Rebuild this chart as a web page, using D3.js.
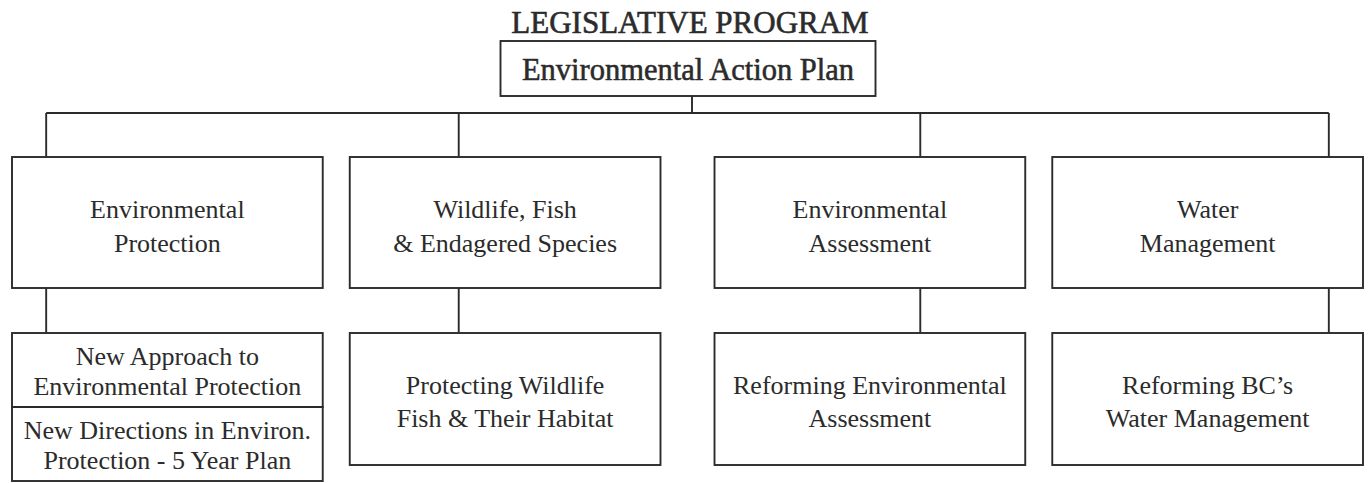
<!DOCTYPE html>
<html>
<head>
<meta charset="utf-8">
<script src="https://cdn.jsdelivr.net/npm/d3@7"></script>
<style>
  html, body { margin: 0; padding: 0; background: #fff; }
  svg { display: block; }
</style>
</head>
<body>
<div id="chart"></div>
<script>
// ---- data ----
const chartTitle = "LEGISLATIVE PROGRAM";
const rootLabel = "Environmental Action Plan";
const programs = [
  "Environmental\nProtection",
  "Wildlife, Fish\n& Endagered Species",
  "Environmental\nAssessment",
  "Water\nManagement"
];
const initiatives = [
  ["New Approach to\nEnvironmental Protection", "New Directions in Environ.\nProtection - 5 Year Plan"],
  ["Protecting Wildlife\nFish & Their Habitat"],
  ["Reforming Environmental\nAssessment"],
  ["Reforming BC\u2019s\nWater Management"]
];

// ---- layout ----
const W = 1368, H = 483;
const ink = "#2b2b2b";
const font = "'Liberation Serif', 'Times New Roman', serif";

const svg = d3.select("#chart").append("svg")
  .attr("width", W).attr("height", H)
  .attr("viewBox", [0, 0, W, H]);

// columns are laid out as two pairs, with a wider gap between the pairs
const xGroup = d3.scaleBand().domain([0, 1]).range([12, 1363]).paddingInner(0.0769).paddingOuter(0);
const xInner = d3.scaleBand().domain([0, 1]).range([0, xGroup.bandwidth()]).paddingInner(0.08).paddingOuter(0);
const boxX = i => xGroup(Math.floor(i / 2)) + xInner(i % 2);
const boxW = xInner.bandwidth();
// position of each column's connector inside its box (fraction of box width)
const linkFrac = d3.scaleLinear().domain([0, programs.length - 1]).range([0.11, 0.89]);
const linkX = i => boxX(i) + boxW * linkFrac(i) + (i === 1 ? -6 : i === 2 ? 10 : 0);

const y = d3.scaleOrdinal()
  .domain(["title", "rootTop", "rootBottom", "bus", "l1Top", "l1Bottom", "l2Top", "l2Bottom", "l2Stack"])
  .range([33, 41, 96, 113, 157, 288, 333, 465, 481]);

const rootCx = 688, rootW = 375;

function lines(g, label, cx, cy, fs, lh, off) {
  const parts = label.split("\n");
  const t = g.append("text")
    .attr("text-anchor", "middle")
    .attr("font-family", font)
    .attr("font-size", fs)
    .attr("fill", ink);
  parts.forEach((p, i) => {
    t.append("tspan")
      .attr("x", cx)
      .attr("y", cy + (i - (parts.length - 1) / 2) * lh + off + fs * 0.34)
      .text(p);
  });
  return t;
}

const boxStyle = sel => sel.attr("fill", "none").attr("stroke", ink).attr("stroke-width", 1.9);
const lineStyle = sel => sel.attr("fill", "none").attr("stroke", ink).attr("stroke-width", 1.9);

// title
svg.append("text")
  .attr("x", rootCx + 2).attr("y", y("title"))
  .attr("text-anchor", "middle")
  .attr("font-family", font).attr("font-size", 31)
  .attr("fill", ink).attr("stroke", ink).attr("stroke-width", 0.6)
  .text(chartTitle);

// root box
svg.append("rect")
  .attr("x", rootCx - rootW / 2).attr("y", y("rootTop"))
  .attr("width", rootW).attr("height", y("rootBottom") - y("rootTop"))
  .call(boxStyle);
lines(svg, rootLabel, rootCx, (y("rootTop") + y("rootBottom")) / 2, 30.5, 0, 1)
  .attr("stroke", ink).attr("stroke-width", 0.55);

// connectors
const busX = rootCx + 4;
svg.append("line")
  .attr("x1", busX).attr("x2", busX)
  .attr("y1", y("rootBottom")).attr("y2", y("bus")).call(lineStyle);
svg.append("line")
  .attr("x1", linkX(0)).attr("x2", linkX(programs.length - 1))
  .attr("y1", y("bus")).attr("y2", y("bus")).call(lineStyle);

const cols = svg.selectAll("g.col").data(programs).join("g").attr("class", "col");

cols.each(function(label, i) {
  const g = d3.select(this);
  const bx = boxX(i), bw = boxW;
  const lx = linkX(i);
  // drop from bus
  g.append("line").attr("x1", lx).attr("x2", lx)
    .attr("y1", y("bus")).attr("y2", y("l1Top")).call(lineStyle);
  // level 1 box
  g.append("rect").attr("x", bx).attr("y", y("l1Top"))
    .attr("width", bw).attr("height", y("l1Bottom") - y("l1Top")).call(boxStyle);
  lines(g, label, bx + bw / 2, (y("l1Top") + y("l1Bottom")) / 2, 26, 34, 4);
  // link to level 2
  g.append("line").attr("x1", lx).attr("x2", lx)
    .attr("y1", y("l1Bottom")).attr("y2", y("l2Top")).call(lineStyle);
  // level 2 boxes
  const kids = initiatives[i];
  const multi = kids.length > 1;
  const bottom = multi ? y("l2Stack") : y("l2Bottom");
  const yk = d3.scaleBand().domain(d3.range(kids.length)).range([y("l2Top"), bottom]);
  kids.forEach((k, j) => {
    g.append("rect").attr("x", bx).attr("y", yk(j))
      .attr("width", bw).attr("height", yk.bandwidth()).call(boxStyle);
    lines(g, k, bx + bw / 2, yk(j) + yk.bandwidth() / 2, 26, multi ? 30 : 33, multi ? 1 : 3);
  });
});
</script>
</body>
</html>
